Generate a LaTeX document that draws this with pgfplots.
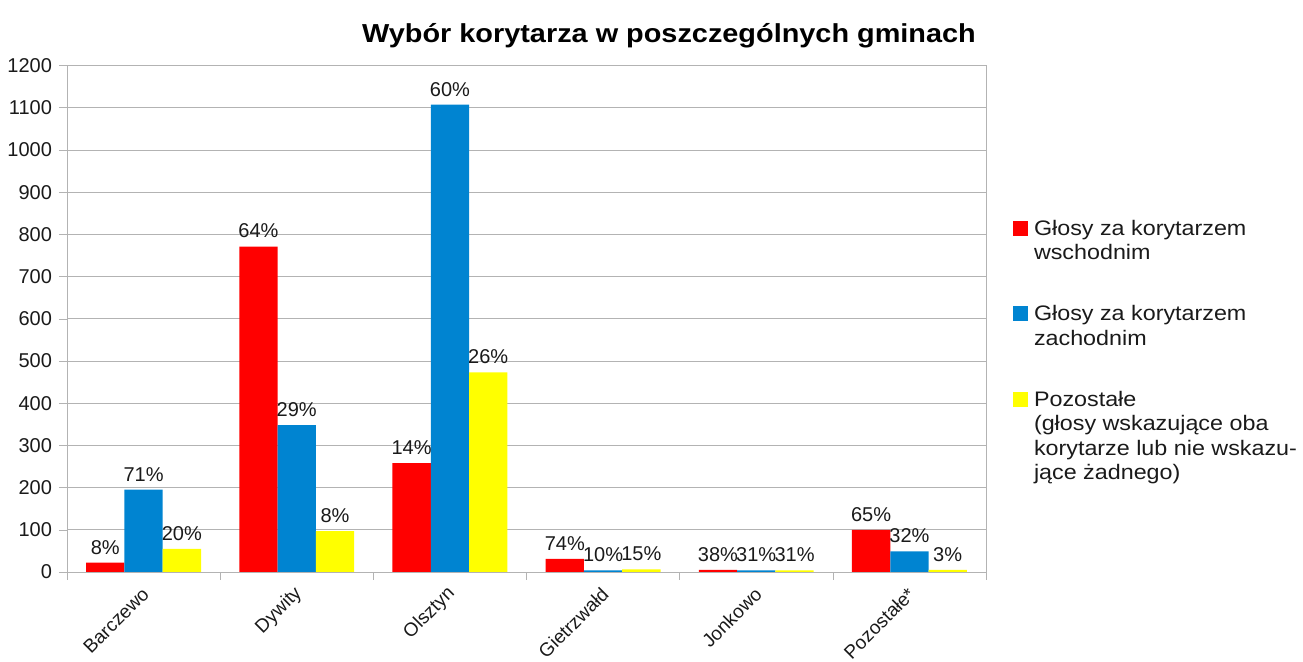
\documentclass[border=0pt]{standalone}
\usepackage{fontspec}
\setmainfont{Liberation Sans}
\newfontfamily\widefont{Liberation Sans}[FakeStretch=1.11]
\usepackage{pgfplots}
\usepackage{pgfplotstable}
\pgfplotsset{compat=1.18}
\definecolor{cred}{HTML}{FF0000}
\definecolor{cblue}{HTML}{0084D1}
\definecolor{cyel}{HTML}{FFFF00}
\definecolor{cgrid}{HTML}{B3B3B3}
\definecolor{ctext}{HTML}{1A1A1A}

\pgfplotstableread{
x red blue yel pr pb py
0 22 195 55 8 71 20
1 771 348 97 64 29 8
2 258 1107 473 14 60 26
3 31 4 6 74 10 15
4 5 4 4 38 31 31
5 100 49 5 65 32 3
}\data

\pgfplotsset{sq/.style={legend image code/.code={\fill[##1] (0pt,-0.3pt) rectangle (7.5pt,-7.8pt);}}}

\begin{document}
\begin{tikzpicture}
\useasboundingbox (-33.5pt,-45pt) rectangle (618pt,286pt);
\begin{axis}[
  at={(0,0)}, anchor=south west,
  scale only axis, width=459.5pt, height=253.25pt,
  ymin=0, ymax=1200, ytick={0,100,...,1200},
  xmin=-0.5, xmax=5.5,
  ybar, bar width=0.25,
  axis line style={cgrid},
  ymajorgrids, grid style={cgrid},
  tick align=outside, major tick length=4pt,
  tick style={cgrid},
  xtick pos=bottom, ytick pos=left,
  xtick={-0.5,0.5,...,5.5}, xticklabels={},
  extra x ticks={0,...,5},
  extra x tick labels={Barczewo,Dywity,Olsztyn,Gietrzwałd,Jonkowo,Pozostałe*},
  extra x tick style={major tick length=0pt, grid=none},
  xticklabel style={xshift=3.5pt, yshift=-7pt, rotate=45, anchor=east, font=\fontsize{9.5}{11}\selectfont},
  yticklabel style={font=\fontsize{10}{12}\selectfont},
  ticklabel style={text=ctext},
  scaled ticks=false,
  /pgf/number format/assume math mode=true,
  /pgf/number format/1000 sep={},
  point meta=explicit,
  nodes near coords={\pgfmathprintnumber{\pgfplotspointmeta}\%},
  every node near coord/.append style={font=\fontsize{10}{12}\selectfont, text=ctext, inner sep=2pt, yshift=2pt},
  legend style={at={(1.0294,0.695)}, anchor=north west, draw=none, fill=none,
    inner sep=0pt, outer sep=0pt, row sep=21.5pt, column sep=3pt,
    cells={anchor=north west},
    nodes={inner sep=0pt, align=left, font=\widefont\fontsize{10.5}{12.2}\selectfont, text=ctext}},
]
\addplot[fill=cred, draw=none, bar shift=-0.25, sq] table[x=x, y=red, meta=pr] {\data};
\addlegendentry{Głosy za korytarzem\\wschodnim}
\addplot[fill=cblue, draw=none, bar shift=0, sq] table[x=x, y=blue, meta=pb] {\data};
\addlegendentry{Głosy za korytarzem\\zachodnim}
\addplot[fill=cyel, draw=none, bar shift=0.25, sq] table[x=x, y=yel, meta=py] {\data};
\addlegendentry{Pozostałe\\(głosy wskazujące oba\\korytarze lub nie wskazu-\\jące żadnego)}
\end{axis}
\node[anchor=base, font=\widefont\bfseries\fontsize{13}{15}\selectfont, text=black] at (301pt,264.5pt) {Wybór korytarza w poszczególnych gminach};
\end{tikzpicture}
\end{document}
